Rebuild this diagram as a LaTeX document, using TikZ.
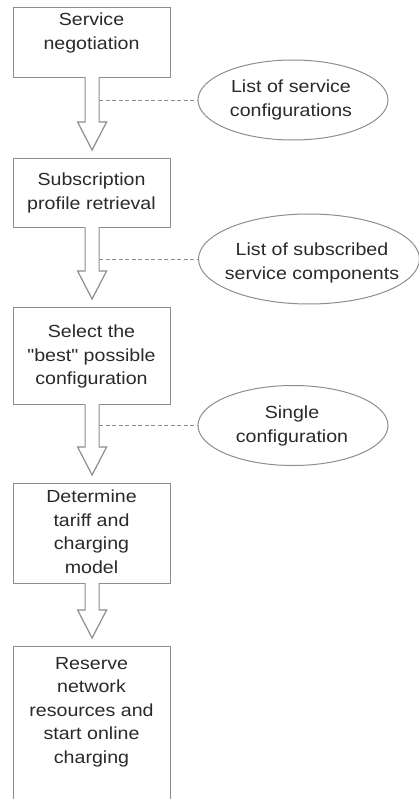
\documentclass[tikz,border=0pt]{standalone}
\usepackage{fontspec}
% plain family (no TeX ligatures) so that " stays a straight quote
\newfontfamily\labelfont[FakeStretch=1.12]{Liberation Sans}
\usetikzlibrary{shapes.geometric,calc}
\definecolor{linegray}{HTML}{8E8E8E}
\definecolor{inkgray}{HTML}{2A2A2A}

% Hollow block arrow from the bottom of box #1 to just above box #2;
% #3 names the right edge of its shaft (where side notes attach).
\newcommand{\flowarrow}[3]{%
  \coordinate (#3) at ($(#1.south)+(7,0)$);
  \fill[white] ($(#1.south)+(-6.4,-1)$) -- ($(#2.north)+(-6.4,-36)$)
    -- ($(#2.north)+(-14.5,-36)$) -- ($(#2.north)+(0,-8)$)
    -- ($(#2.north)+(14.5,-36)$) -- ($(#2.north)+(6.4,-36)$)
    -- ($(#1.south)+(6.4,-1)$) -- cycle;
  \draw[arrowline] ($(#1.south)+(-7,0)$) -- ($(#2.north)+(-7,-36)$)
    -- ($(#2.north)+(-14.5,-36)$) -- ($(#2.north)+(0,-8)$)
    -- ($(#2.north)+(14.5,-36)$) -- ($(#2.north)+(7,-36)$) -- (#3);
}

\begin{document}
\begin{tikzpicture}[x=1pt,y=-1pt,
  stepbox/.style={draw=linegray, line width=1.2pt, fill=white,
    minimum width=157pt, inner sep=0pt, anchor=north west},
  steptext/.style={font=\labelfont\fontsize{17.5}{23.5}\selectfont, text=inkgray,
    align=center, inner sep=0pt, anchor=north},
  notebubble/.style={ellipse, draw=linegray, line width=1pt, inner sep=0pt},
  notetext/.style={font=\labelfont\fontsize{17.5}{23.5}\selectfont, text=inkgray,
    align=center, inner sep=0pt},
  arrowline/.style={draw=linegray, line width=1.2pt, line join=miter},
  dashline/.style={draw=linegray, line width=0.9pt, dash pattern=on 4pt off 2.5pt}]

\useasboundingbox (0,0) rectangle (419,799);
\clip (0,0) rectangle (419,799);
\fill[white] (0,0) rectangle (419,799);

% process steps
\node[stepbox, minimum height=70pt]  (b1) at (13,7)   {};
\node[stepbox, minimum height=69pt]  (b2) at (13,158) {};
\node[stepbox, minimum height=97pt]  (b3) at (13,307) {};
\node[stepbox, minimum height=100pt] (b4) at (13,483) {};
\node[stepbox, minimum height=175pt] (b5) at (13,646) {};

\node[steptext] (t1) at (91.5,13)  {Service\\negotiation};
\node[steptext] (t2) at (91.5,173) {Subscription\\profile retrieval};
\node[steptext] (t3) at (91.5,325) {Select the\\"best" possible\\configuration};
\node[steptext] (t4) at (91.5,490) {Determine\\tariff and\\charging\\model};
\node[steptext] (t5) at (91.5,657) {Reserve\\network\\resources and\\start online\\charging};

% arrows between the steps
\flowarrow{b1}{b2}{a1}
\flowarrow{b2}{b3}{a2}
\flowarrow{b3}{b4}{a3}
\flowarrow{b4}{b5}{a4}

% intermediate results
\node[notebubble, minimum width=190pt, minimum height=80pt] (e1) at (293,100) {};
\node[notebubble, minimum width=221pt, minimum height=90pt] (e2) at (309,259) {};
\node[notebubble, minimum width=190pt, minimum height=80pt] (e3) at (293,425.5) {};

\node[notetext] (n1) at (291,100) {List of service\\configurations};
\node[notetext] (n2) at (312,263) {List of subscribed\\service components};
\node[notetext] (n3) at (292,426) {Single\\configuration};

\draw[dashline] (a1 |- e1.west) -- (e1.west);
\draw[dashline] (a2 |- e2.west) -- (e2.west);
\draw[dashline] (a3 |- e3.west) -- (e3.west);
\end{tikzpicture}
\end{document}
